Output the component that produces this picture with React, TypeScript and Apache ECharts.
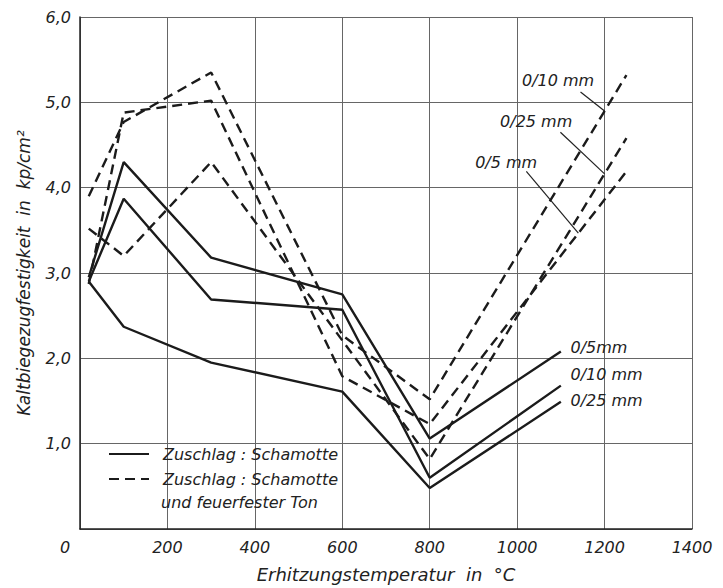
import React, { useEffect, useRef } from "react";
import * as echarts from "echarts";

// x: temperature in °C, y: strength in kp/cm²
const xTicks = [0, 200, 400, 600, 800, 1000, 1200, 1400];
const yTicks = [1, 2, 3, 4, 5, 6];

const solidTemps = [20, 100, 300, 600, 800, 1100];
const solid05 = [2.95, 4.3, 3.18, 2.75, 1.06, 2.08];
const solid010 = [2.9, 3.87, 2.69, 2.57, 0.6, 1.68];
const solid025 = [2.9, 2.37, 1.95, 1.61, 0.48, 1.49];

const dashedTemps = [20, 100, 300, 600, 800, 1250];
const dashed010 = [3.9, 4.77, 5.35, 2.27, 1.52, 5.32];
const dashed05 = [2.87, 4.88, 5.02, 1.79, 1.23, 4.19];
const dashed025 = [3.52, 3.2, 4.3, 2.21, 0.82, 4.58];

const solidLabels = ["0/5mm", "0/10 mm", "0/25 mm"];
const solidLabelPos = [
  [1122, 2.13],
  [1122, 1.81],
  [1122, 1.51],
];
const dashedLabels = ["0/10 mm", "0/25 mm", "0/5 mm"];
const dashedLabelPos = [
  [1011, 5.26],
  [961, 4.78],
  [904, 4.29],
];
const leaderStarts = [
  [1145, 5.12],
  [1099, 4.65],
  [1021, 4.19],
];
const leaderEndTemps = [1200, 1200, 1140];
const leaderSeries = [dashed010, dashed025, dashed05];

const FONT = "DejaVu Sans";
const INK = "#1b1b1b";

function pairs(xs: number[], ys: number[]) {
  return xs.map((x, i) => [x, ys[i]]);
}
function interp(xs: number[], ys: number[], x: number) {
  for (let i = 0; i < xs.length - 1; i++) {
    if (x >= xs[i] && x <= xs[i + 1]) {
      const t = (x - xs[i]) / (xs[i + 1] - xs[i]);
      return ys[i] + t * (ys[i + 1] - ys[i]);
    }
  }
  return ys[ys.length - 1];
}

export default function App() {
  const ref = useRef<HTMLDivElement>(null);
  useEffect(() => {
    if (!ref.current) return;
    const chart = echarts.init(ref.current, undefined, { renderer: "svg" });
    const solidStyle = { color: INK, width: 2.4, type: "solid" as const };
    const dashStyle = { color: INK, width: 2.4, type: [10, 6] as any };
    const mk = (name: string, xs: number[], ys: number[], ls: any) => ({
      type: "line",
      name,
      data: pairs(xs, ys),
      symbol: "none",
      showSymbol: false,
      lineStyle: ls,
      itemStyle: { color: INK },
      silent: true,
    });
    const textBase = { fontFamily: FONT, fontStyle: "italic", color: "#222" };
    chart.setOption({
      animation: false,
      backgroundColor: "#fff",
      grid: { left: 80, right: 31, top: 17, bottom: 58 },
      xAxis: {
        type: "value",
        min: 0,
        max: 1400,
        interval: 200,
        name: "Erhitzungstemperatur  in  °C",
        nameLocation: "middle",
        nameGap: 36,
        nameTextStyle: { ...textBase, fontSize: 18 },
        axisLine: { show: true, lineStyle: { color: "#222", width: 1.5 } },
        axisTick: { show: false },
        axisLabel: {
          ...textBase,
          fontSize: 16,
          margin: 10,
          formatter: (v: number) => (v === 0 ? "" : xTicks.includes(v) ? String(v) : ""),
        },
        splitLine: { show: true, lineStyle: { color: "#666", width: 1 } },
      },
      yAxis: {
        type: "value",
        min: 0,
        max: 6,
        interval: 1,
        name: "Kaltbiegezugfestigkeit  in  kp/cm²",
        nameLocation: "middle",
        nameGap: 48,
        nameRotate: 90,
        nameTextStyle: { ...textBase, fontSize: 17 },
        axisLine: { show: true, lineStyle: { color: "#222", width: 1.5 } },
        axisTick: { show: false },
        axisLabel: {
          ...textBase,
          fontSize: 16,
          margin: 9,
          formatter: (v: number) =>
            yTicks.includes(v) ? v.toFixed(1).replace(".", ",") : "",
        },
        splitLine: { show: true, lineStyle: { color: "#666", width: 1 } },
      },
      legend: {
        orient: "vertical",
        left: 103,
        top: 441,
        itemWidth: 40,
        itemHeight: 12,
        itemGap: 9,
        selectedMode: false,
        data: ["solid", "dashed"],
        formatter: () => "Zuschlag : Schamotte",
        itemStyle: { opacity: 0, borderWidth: 0 },
        textStyle: { ...textBase, fontSize: 16, padding: [0, 0, 0, 9] },
      },
      series: [
        mk("solid", solidTemps, solid05, solidStyle),
        mk("solid", solidTemps, solid010, solidStyle),
        mk("solid", solidTemps, solid025, solidStyle),
        mk("dashed", dashedTemps, dashed010, dashStyle),
        mk("dashed", dashedTemps, dashed05, dashStyle),
        mk("dashed", dashedTemps, dashed025, dashStyle),
      ],
    });

    const px = (p: number[]) => chart.convertToPixel({ gridIndex: 0 }, p) as number[];
    const graphics: any[] = [];
    const zero = px([0, 0]);
    graphics.push({
      type: "text",
      x: zero[0] - 15,
      y: zero[1] + 18,
      style: { text: "0", font: `italic 16px ${FONT}`, fill: "#222", align: "center", verticalAlign: "middle" },
    });
    solidLabels.forEach((t, i) => {
      const p = px(solidLabelPos[i]);
      graphics.push({
        type: "text",
        x: p[0],
        y: p[1],
        style: { text: t, font: `italic 16px ${FONT}`, fill: "#222", align: "left", verticalAlign: "middle" },
      });
    });
    dashedLabels.forEach((t, i) => {
      const p = px(dashedLabelPos[i]);
      graphics.push({
        type: "text",
        x: p[0],
        y: p[1],
        style: { text: t, font: `italic 16px ${FONT}`, fill: "#222", align: "left", verticalAlign: "middle" },
      });
      const s = px(leaderStarts[i]);
      const te = leaderEndTemps[i];
      const e = px([te, interp(dashedTemps, leaderSeries[i], te)]);
      graphics.push({
        type: "line",
        shape: { x1: s[0], y1: s[1], x2: e[0], y2: e[1] },
        style: { stroke: "#222", lineWidth: 1.2 },
      });
    });
    graphics.push({
      type: "text",
      x: 161,
      y: 502,
      style: { text: "und feuerfester Ton", font: `italic 16px ${FONT}`, fill: "#222", align: "left", verticalAlign: "middle" },
    });
    chart.setOption({ graphic: graphics });
    return () => chart.dispose();
  }, []);
  return (
    <div
      ref={ref}
      style={{ position: "fixed", left: 0, top: 0, width: 723, height: 588, background: "#fff" }}
    />
  );
}
